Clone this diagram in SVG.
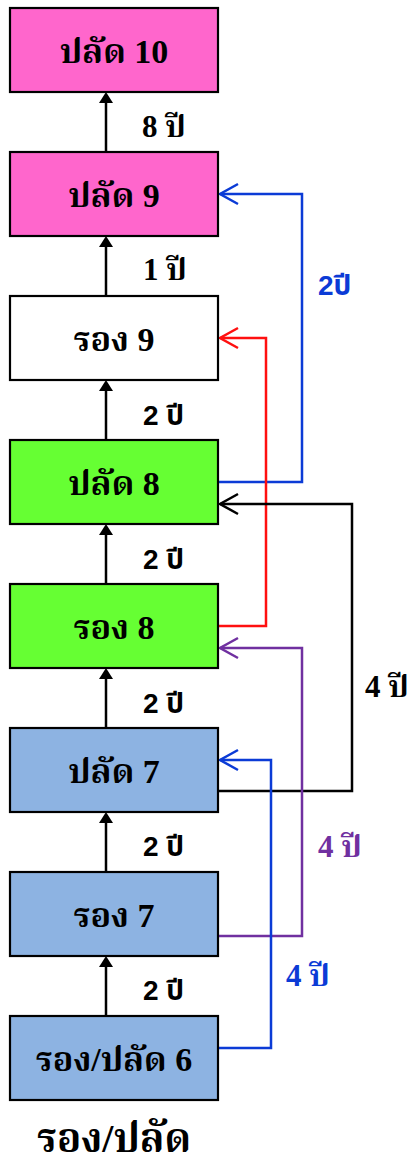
<svg xmlns="http://www.w3.org/2000/svg" width="412" height="1162" viewBox="0 0 412 1162">
<style>
.box{stroke:#000;stroke-width:2.2}
.pink{fill:#FF66CC}.white{fill:#FFFFFF}.green{fill:#66FF33}.blue{fill:#8DB3E2}
.t{font-family:"Liberation Serif","Noto Serif Thai","Noto Sans Thai","Tlwg Typo",serif;font-weight:bold;font-size:34px;text-anchor:middle;fill:#000}
.ls{font-family:"Liberation Sans","Noto Sans Thai",sans-serif;font-weight:bold;font-size:28px}
.lr{font-family:"Liberation Serif","Noto Serif Thai","Noto Sans Thai",serif;font-weight:bold;font-size:31px}
.up{stroke:#000;stroke-width:2.5;fill:none}
.c{stroke-width:2.5;fill:none}
</style>
<defs>
<marker id="ah" markerUnits="userSpaceOnUse" markerWidth="12" markerHeight="14" refX="0" refY="7" orient="auto" overflow="visible"><path d="M0,0 L11,7 L0,14 z" fill="#000"/></marker>
<marker id="cK" markerUnits="userSpaceOnUse" markerWidth="20" markerHeight="22" refX="18" refY="10" orient="auto" overflow="visible"><path d="M0,0 L18,10 L0,20" fill="none" stroke="#000" stroke-width="2.5"/></marker>
<marker id="cB" markerUnits="userSpaceOnUse" markerWidth="20" markerHeight="22" refX="18" refY="10" orient="auto" overflow="visible"><path d="M0,0 L18,10 L0,20" fill="none" stroke="#0B3BD6" stroke-width="2.5"/></marker>
<marker id="cR" markerUnits="userSpaceOnUse" markerWidth="20" markerHeight="22" refX="18" refY="10" orient="auto" overflow="visible"><path d="M0,0 L18,10 L0,20" fill="none" stroke="#FF1010" stroke-width="2.5"/></marker>
<marker id="cP" markerUnits="userSpaceOnUse" markerWidth="20" markerHeight="22" refX="18" refY="10" orient="auto" overflow="visible"><path d="M0,0 L18,10 L0,20" fill="none" stroke="#7030A0" stroke-width="2.5"/></marker>
</defs>
<g id="connectors">
<line class="up" x1="106" y1="152" x2="106" y2="103" marker-end="url(#ah)"/>
<line class="up" x1="106" y1="296" x2="106" y2="247" marker-end="url(#ah)"/>
<line class="up" x1="106" y1="440" x2="106" y2="391" marker-end="url(#ah)"/>
<line class="up" x1="106" y1="584" x2="106" y2="535" marker-end="url(#ah)"/>
<line class="up" x1="106" y1="728" x2="106" y2="679" marker-end="url(#ah)"/>
<line class="up" x1="106" y1="872" x2="106" y2="823" marker-end="url(#ah)"/>
<line class="up" x1="106" y1="1016" x2="106" y2="967" marker-end="url(#ah)"/>
<polyline class="c" stroke="#0B3BD6" points="218,482 302,482 302,194 220,194" marker-end="url(#cB)"/>
<polyline class="c" stroke="#FF1010" points="218,626 266,626 266,338 220,338" marker-end="url(#cR)"/>
<polyline class="c" stroke="#000" points="218,791 352,791 352,504 220,504" marker-end="url(#cK)"/>
<polyline class="c" stroke="#7030A0" points="218,936 302,936 302,648 220,648" marker-end="url(#cP)"/>
<polyline class="c" stroke="#0B3BD6" points="218,1048 271,1048 271,760 220,760" marker-end="url(#cB)"/>
<text class="lr" x="142" y="137">8 ปี</text>
<text class="lr" x="143" y="280">1 ปี</text>
<text class="ls" x="143" y="425">2 ปี</text>
<text class="ls" x="143" y="569">2 ปี</text>
<text class="ls" x="143" y="713">2 ปี</text>
<text class="ls" x="143" y="856">2 ปี</text>
<text class="ls" x="143" y="1000">2 ปี</text>
<text class="ls" x="318" y="295" fill="#0B3BD6">2ปี</text>
<text class="lr" x="365" y="697">4 ปี</text>
<text class="lr" x="318" y="857" fill="#7030A0">4 ปี</text>
<text class="lr" x="286" y="986" fill="#0B3BD6">4 ปี</text>
</g>
<g id="n1"><rect class="box pink" x="10" y="8" width="208" height="84"/><text class="t" x="114" y="63">ปลัด 10</text></g>
<g id="n2"><rect class="box pink" x="10" y="152" width="208" height="84"/><text class="t" x="114" y="207">ปลัด 9</text></g>
<g id="n3"><rect class="box white" x="10" y="296" width="208" height="84"/><text class="t" x="114" y="351">รอง 9</text></g>
<g id="n4"><rect class="box green" x="10" y="440" width="208" height="84"/><text class="t" x="114" y="495">ปลัด 8</text></g>
<g id="n5"><rect class="box green" x="10" y="584" width="208" height="84"/><text class="t" x="114" y="639">รอง 8</text></g>
<g id="n6"><rect class="box blue" x="10" y="728" width="208" height="84"/><text class="t" x="114" y="783">ปลัด 7</text></g>
<g id="n7"><rect class="box blue" x="10" y="872" width="208" height="84"/><text class="t" x="114" y="927">รอง 7</text></g>
<g id="n8"><rect class="box blue" x="10" y="1016" width="208" height="84"/><text class="t" x="114" y="1071">รอง/ปลัด 6</text></g>
<text class="t" x="114" y="1152" style="font-size:40px">รอง/ปลัด</text>
</svg>
